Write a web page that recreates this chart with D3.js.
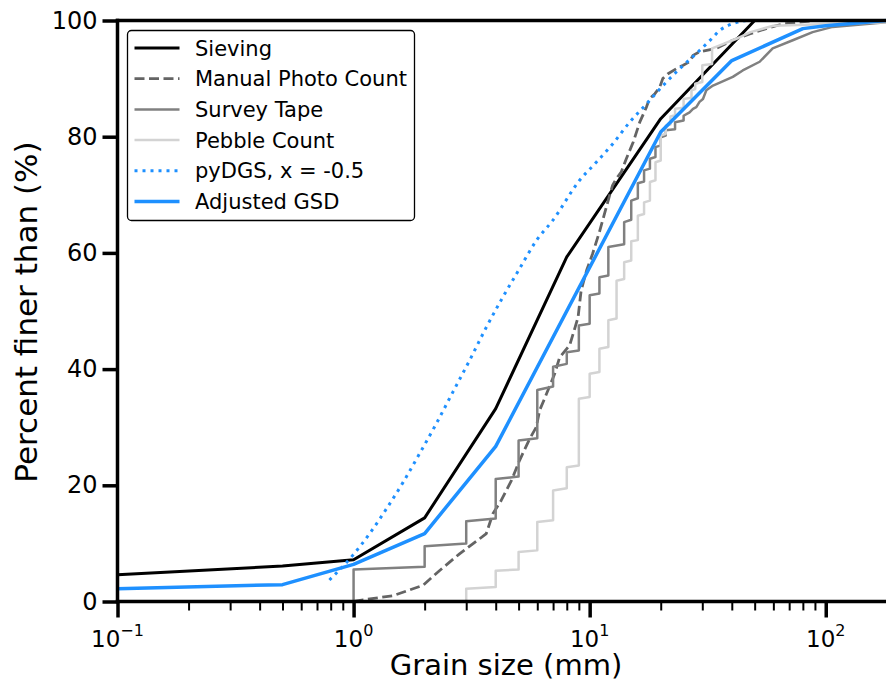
<!DOCTYPE html>
<html>
<head>
<meta charset="UTF-8">
<title>Grain size distribution</title>
<script src="https://cdn.jsdelivr.net/npm/d3@7/dist/d3.min.js"></script>
<style>
  body { margin: 0; background: #fff; }
  svg { display: block; font-family: "DejaVu Sans", sans-serif; }
  .tick text { fill: #000; }
</style>
</head>
<body>
<svg id="chart" width="886" height="682"></svg>
<script>
  // Sieving
  var sieveSize = [0.1, 0.5, 1, 2, 4, 8, 20, 50, 180];
  var sievePct  = [4.6, 6.1, 7.2, 14.4, 33.2, 59.3, 83.1, 100, 100];

  // Manual photo count
  var photoSize = [1.0, 1.1, 1.47, 1.97, 2.31, 2.81, 3.42, 3.65, 3.89, 4.22, 4.66, 5.05, 5.57, 5.94, 6.14,
                   6.56, 7.11, 7.46, 8.23, 8.93, 9.2, 9.71, 10.3, 11.0, 12.15, 12.5, 12.97, 13.6, 14.3,
                   15.3, 16.3, 17.4, 17.9, 18.9, 19.8, 20.4, 21.4, 23.3, 24.9, 26.5, 27.4, 29.2, 34.4,
                   40.4, 47.6, 55.9, 65.6, 77.4, 90, 180];
  var photoPct  = [0, 0.3, 1.0, 2.8, 5.3, 8.2, 10.8, 11.7, 15.1, 17.4, 20.8, 24.3, 28.0, 30.0, 32.9,
                   35.7, 39.2, 42.0, 44.1, 48.9, 53.5, 57.0, 59.9, 63.6, 69.9, 71.6, 72.8, 73.9, 76.2,
                   79.1, 82.5, 85.1, 86.5, 87.4, 88.5, 90.0, 90.8, 91.7, 92.3, 92.9, 94.0, 94.6, 95.2,
                   96.6, 97.7, 98.6, 99.4, 99.7, 100, 100];

  // Survey tape (cumulative steps)
  var tapeSize = [1, 1, 2, 2, 3, 3, 4, 4, 5, 5, 6, 6, 7, 7, 8, 8, 9, 9, 10, 10, 11, 11, 12, 12,
                  14, 14, 15, 15, 16, 16, 17, 17, 18, 18, 19, 19, 20, 20, 21, 21, 23, 23, 25, 25,
                  26.5, 27.4, 28.3, 29.2, 30.2, 31.2, 33.3, 35.6, 40.4, 44.5, 52.5, 59.6, 72.5, 88,
                  107, 149, 180];
  var tapePct  = [0, 5.5, 6.0, 9.5, 10.0, 13.8, 14.3, 21.1, 21.5, 27.7, 28.1, 36.4, 37.0, 40.4,
                  40.9, 42.9, 43.2, 47.5, 47.8, 52.7, 53.0, 55.8, 56.1, 61.0, 61.5, 65.3, 65.7, 69.0,
                  69.4, 72.0, 72.3, 74.2, 74.5, 76.2, 76.5, 78.2, 78.5, 79.9, 80.2, 81.1, 81.3, 82.5,
                  82.8, 83.6, 84.2, 84.8, 85.1, 86.0, 86.5, 88.0, 88.8, 89.3, 90.3, 91.4, 92.9, 95.2,
                  96.6, 98.0, 98.9, 99.4, 99.7];

  // Pebble count (cumulative steps)
  var pebbleSize = [3, 3, 4, 4, 5, 5, 6, 6, 7, 7, 8, 8, 9, 9, 10, 10, 11, 11, 12, 12, 13, 13, 14, 14,
                    15, 15, 16, 16, 17, 17, 18, 18, 19, 19, 20, 20, 21, 21, 22, 22, 23, 23, 25, 25,
                    27, 27, 28, 28, 30, 30, 33, 33, 36, 42, 48, 60, 180];
  var pebblePct  = [0, 2.2, 2.5, 5.3, 5.5, 8.5, 8.8, 13.7, 14.0, 19.1, 19.5, 23.1, 23.4, 34.9, 35.2,
                    39.2, 39.5, 43.5, 43.8, 48.4, 48.7, 55.2, 55.5, 58.4, 58.7, 62.0, 62.2, 66.4, 66.7,
                    68.7, 69.0, 72.2, 72.5, 75.6, 75.9, 80.2, 80.5, 81.9, 82.1, 83.5, 83.7, 84.8, 85.0,
                    86.5, 86.7, 88.0, 88.2, 89.1, 89.4, 92.3, 92.5, 95.2, 95.8, 96.9, 98.0, 99.1, 99.7];

  // pyDGS, x = -0.5
  var dgsSize = [0.79, 0.99, 1.17, 1.38, 1.62, 1.9, 2.24, 2.63, 3.1, 3.65, 4.29, 5.05, 5.94, 6.98,
                 9.07, 10.67, 12.55, 14.77, 17.38, 20.45, 24.06, 28.3, 33.3, 35.6, 46.1];
  var dgsPct  = [3.7, 7.9, 11.7, 16.0, 20.5, 25.4, 30.6, 36.0, 41.5, 47.2, 52.4, 57.3, 62.1, 65.6,
                 72.5, 75.6, 78.8, 82.5, 85.6, 88.8, 91.7, 94.3, 97.1, 98.3, 100];

  // Adjusted GSD
  var adjSize = [0.1, 0.5, 1, 2, 4, 20, 40, 80, 100, 180];
  var adjPct  = [2.2, 2.9, 6.4, 11.7, 26.7, 80.8, 93.1, 98.6, 99.1, 100];

  var yTicks = [0, 20, 40, 60, 80, 100];
  var xMajor = [0.1, 1, 10, 100];
  var xMajorExp = ["\u22121", "0", "1", "2"];

  var svg = d3.select("#chart");
  var plotLeft = 117.5, plotRight = 886, plotTop = 20.5, plotBottom = 601.5;

  var x = d3.scaleLog().domain([0.1, 180]).range([plotLeft, plotRight]);
  var y = d3.scaleLinear().domain([0, 100]).range([plotBottom, plotTop]);

  svg.append("defs").append("clipPath").attr("id", "plotClip")
    .append("rect").attr("x", plotLeft).attr("y", plotTop - 2)
    .attr("width", plotRight - plotLeft).attr("height", plotBottom - plotTop + 2);

  function zip(sizes, pcts) {
    return sizes.map(function (s, i) { return [s, pcts[i]]; });
  }

  var series = [
    { name: "Sieving", data: zip(sieveSize, sievePct), color: "#000000", width: 3, dash: null },
    { name: "Manual Photo Count", data: zip(photoSize, photoPct), color: "#646464", width: 2.8, dash: "10,4.5" },
    { name: "Survey Tape", data: zip(tapeSize, tapePct), color: "#808080", width: 2.5, dash: null },
    { name: "Pebble Count", data: zip(pebbleSize, pebblePct), color: "#d3d3d3", width: 2.5, dash: null },
    { name: "pyDGS, x = -0.5", data: zip(dgsSize, dgsPct), color: "#1e90ff", width: 3, dash: "3,5", smooth: true },
    { name: "Adjusted GSD", data: zip(adjSize, adjPct), color: "#1e90ff", width: 3.5, dash: null }
  ];

  var plot = svg.append("g").attr("clip-path", "url(#plotClip)");

  series.forEach(function (s) {
    var line = d3.line()
      .x(function (d) { return x(d[0]); })
      .y(function (d) { return y(d[1]); });
    if (s.smooth) line.curve(d3.curveMonotoneX);
    plot.append("path")
      .datum(s.data)
      .attr("d", line)
      .attr("fill", "none")
      .attr("stroke", s.color)
      .attr("stroke-width", s.width)
      .attr("stroke-linejoin", "round")
      .attr("stroke-dasharray", s.dash);
  });

  // Axes
  var yAxis = svg.append("g")
    .attr("transform", "translate(" + plotLeft + ",0)")
    .call(d3.axisLeft(y).tickValues(yTicks).tickSize(15).tickPadding(5).tickFormat(d3.format("d")));
  yAxis.selectAll(".tick line").attr("stroke-width", 3.5);
  yAxis.selectAll(".tick text").attr("font-size", 24).attr("font-family", "DejaVu Sans");

  var minors = [];
  for (var e = -1; e <= 2; e++) {
    for (var m = 2; m <= 9; m++) {
      var v = m * Math.pow(10, e);
      if (v < 180) minors.push(v);
    }
  }

  var xMinorAxis = svg.append("g")
    .attr("transform", "translate(0," + plotBottom + ")")
    .call(d3.axisBottom(x).tickValues(minors).tickSize(9).tickFormat(""));
  xMinorAxis.selectAll(".tick line").attr("stroke-width", 2);

  var xAxis = svg.append("g")
    .attr("transform", "translate(0," + plotBottom + ")")
    .call(d3.axisBottom(x).tickValues(xMajor).tickSize(16).tickFormat(""));
  xAxis.selectAll(".tick line").attr("stroke-width", 3.5);

  [xAxis, xMinorAxis, yAxis].forEach(function (a) { a.select(".domain").remove(); });

  // x tick labels as 10^n
  var xl = svg.append("g");
  xMajor.forEach(function (v, i) {
    var t = xl.append("text")
      .attr("x", x(v))
      .attr("y", 647)
      .attr("text-anchor", "middle")
      .attr("font-size", 23);
    t.append("tspan").text("10");
    t.append("tspan").attr("dy", -11).attr("font-size", 16).text(xMajorExp[i]);
  });

  // Spines
  var spines = svg.append("g").attr("stroke", "#000").attr("stroke-width", 3.5).attr("stroke-linecap", "square");
  spines.append("line").attr("x1", plotLeft).attr("x2", plotLeft).attr("y1", plotTop).attr("y2", plotBottom);
  spines.append("line").attr("x1", plotLeft).attr("x2", plotRight + 5).attr("y1", plotBottom).attr("y2", plotBottom);
  spines.append("line").attr("x1", plotLeft).attr("x2", plotRight + 5).attr("y1", plotTop).attr("y2", plotTop);

  // Axis labels
  svg.append("text")
    .attr("x", 506).attr("y", 675)
    .attr("text-anchor", "middle")
    .attr("font-size", 29)
    .text("Grain size (mm)");

  svg.append("text")
    .attr("transform", "translate(37,312) rotate(-90)")
    .attr("text-anchor", "middle")
    .attr("font-size", 31)
    .text("Percent finer than (%)");

  // Legend
  var legend = svg.append("g").attr("transform", "translate(127.5,30.5)");
  legend.append("rect")
    .attr("width", 287).attr("height", 190).attr("rx", 4)
    .attr("fill", "#fff").attr("fill-opacity", 0.9)
    .attr("stroke", "#000").attr("stroke-width", 1.3);

  series.forEach(function (s, i) {
    var cy = 17.5 + i * 30.7;
    legend.append("line")
      .attr("x1", 7).attr("x2", 52).attr("y1", cy).attr("y2", cy)
      .attr("stroke", s.color).attr("stroke-width", s.width)
      .attr("stroke-dasharray", s.dash);
    legend.append("text")
      .attr("x", 67.5).attr("y", cy + 7.5)
      .attr("font-size", 21)
      .text(s.name);
  });
</script>
</body>
</html>
